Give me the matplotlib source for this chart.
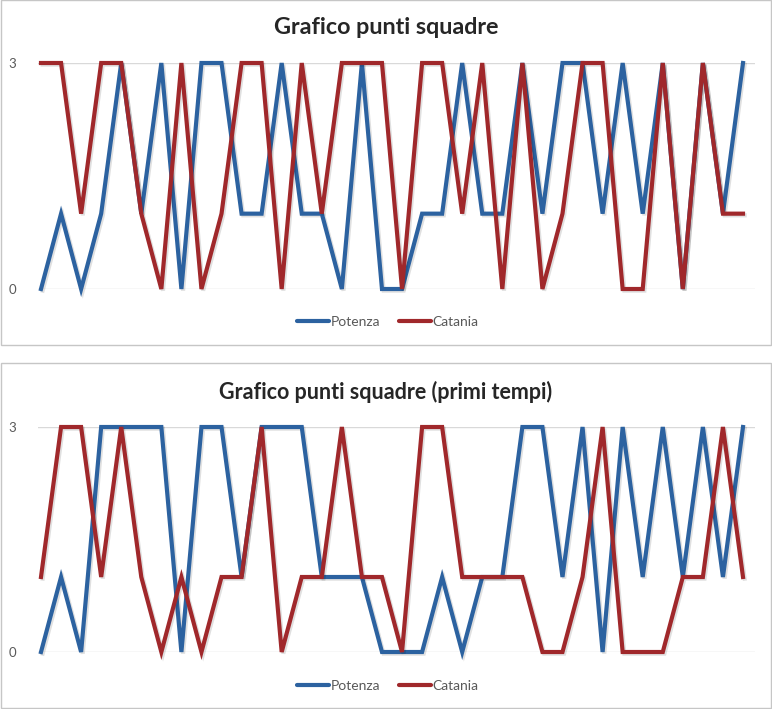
import matplotlib
matplotlib.use("Agg")
import matplotlib.pyplot as plt
from matplotlib.patches import Rectangle
import matplotlib.patheffects as pe
import numpy as np

plt.rcParams['font.family'] = ['Lato', 'DejaVu Sans']

matches = list(range(1, 37))

# Top chart: Grafico punti squadre
potenza_full = [0, 1, 0, 1, 3, 1, 3, 0, 3, 3, 1, 1, 3, 1, 1, 0, 3, 0,
                0, 1, 1, 3, 1, 1, 3, 1, 3, 3, 1, 3, 1, 3, 0, 3, 1, 3]
catania_full = [3, 3, 1, 3, 3, 1, 0, 3, 0, 1, 3, 3, 0, 3, 1, 3, 3, 3,
                0, 3, 3, 1, 3, 0, 3, 0, 1, 3, 3, 0, 0, 3, 0, 3, 1, 1]

# Bottom chart: Grafico punti squadre (primi tempi)
potenza_half = [0, 1, 0, 3, 3, 3, 3, 0, 3, 3, 1, 3, 3, 3, 1, 1, 1, 0,
                0, 0, 1, 0, 1, 1, 3, 3, 1, 3, 0, 3, 1, 3, 1, 3, 1, 3]
catania_half = [1, 3, 3, 1, 3, 1, 0, 1, 0, 1, 1, 3, 0, 1, 1, 3, 1, 1,
                0, 3, 3, 1, 1, 1, 1, 0, 0, 1, 3, 0, 0, 0, 1, 1, 3, 1]

titles = ["Grafico punti squadre", "Grafico punti squadre (primi tempi)"]
series_names = ["Potenza", "Catania"]
yticks = [0, 3]

BLUE = '#2C62A0'
RED = '#A0282B'
GRID = '#D9D9D9'
BORDER = '#C6C6C6'
TXT = '#595959'

W, H = 772, 709
fig = plt.figure(figsize=(W / 100, H / 100), dpi=100)

def fx(px):
    return px / W

def fy(py):
    return 1 - py / H

panels = [
    dict(top=0, bottom=345, y3=63, y0=289, title_y=28, leg_y=322, tsize=16.8,
         data=(potenza_full, catania_full), title=titles[0]),
    dict(top=363, bottom=708, y3=427, y0=652, title_y=392, leg_y=686, tsize=15.5,
         data=(potenza_half, catania_half), title=titles[1]),
]

x = np.arange(len(matches))
# pixel mapping: index 0 -> 41 px, index 35 -> 743 px
px_per = (743 - 41) / (len(matches) - 1)
left_px, right_px = 38, 755
xmin = (left_px - 41) / px_per
xmax = (right_px - 41) / px_per

shadow = [pe.SimpleLineShadow(offset=(1.2, -1.2), shadow_color='black', alpha=0.12), pe.Normal()]

for p in panels:
    # panel border
    fig.patches.append(Rectangle((fx(0.5), fy(p['bottom'])), fx(770.5), fy(p['top']) - fy(p['bottom']),
                                 transform=fig.transFigure, fill=False, edgecolor=BORDER, lw=1.0))
    ax = fig.add_axes([fx(left_px), fy(p['y0']), fx(right_px - left_px), (p['y0'] - p['y3']) / H])
    ax.set_xlim(xmin, xmax)
    ax.set_ylim(0, 3)
    for s in ax.spines.values():
        s.set_visible(False)
    for yv in yticks:
        ax.axhline(yv, color=GRID, lw=1.0, zorder=1)
    ax.set_xticks([])
    ax.set_yticks(yticks)
    ax.set_yticklabels([str(v) for v in yticks])
    ax.tick_params(axis='y', length=0, pad=16, labelsize=9.5, labelcolor=TXT)
    pv, cv = p['data']
    l1, = ax.plot(x, pv, color=BLUE, lw=3.0, solid_joinstyle='miter', clip_on=False, zorder=3,
                  label=series_names[0], path_effects=shadow)
    l2, = ax.plot(x, cv, color=RED, lw=3.0, solid_joinstyle='miter', clip_on=False, zorder=4,
                  label=series_names[1], path_effects=shadow)
    fig.text(0.5, fy(p['title_y']), p['title'], ha='center', va='center',
             fontsize=p['tsize'], fontweight='bold', color='#262626')
    h1 = plt.Line2D([], [], color=BLUE, lw=3.0, solid_capstyle='round')
    h2 = plt.Line2D([], [], color=RED, lw=3.0, solid_capstyle='round')
    fig.legend(handles=[h1, h2], labels=series_names, loc='center', bbox_to_anchor=(fx(388), fy(p['leg_y'])),
               ncol=2, frameon=False, fontsize=10, handlelength=2.3, handletextpad=0.15,
               columnspacing=1.3, labelcolor=TXT)

fig.savefig('out.png', dpi=100)
